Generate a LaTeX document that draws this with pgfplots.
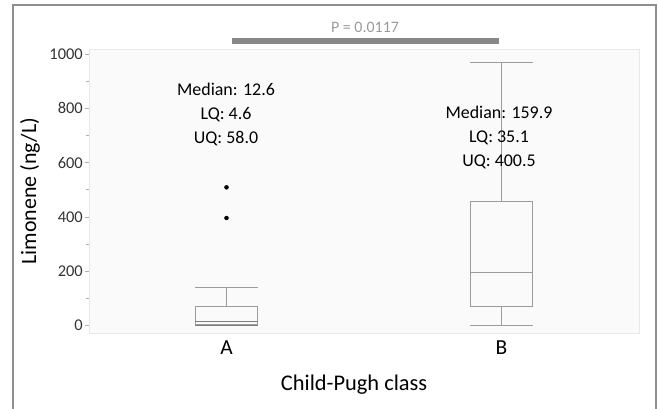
\documentclass[border=0pt]{standalone}
\usepackage{fontspec}
\setmainfont{Carlito}
\usepackage{pgfplots}
\pgfplotsset{compat=1.18}
\definecolor{boxgray}{HTML}{9C9C9C}
\definecolor{framegray}{HTML}{8E8E8E}
\definecolor{plotbg}{HTML}{FAFAFA}
\definecolor{axgray}{HTML}{E8E8E8}
\definecolor{tickgray}{HTML}{B0B0B0}
\definecolor{ptext}{HTML}{9A9A9A}
\definecolor{pbar}{HTML}{888888}
\definecolor{labcol}{HTML}{333333}
\begin{document}
\begin{tikzpicture}
\path[use as bounding box] (0bp,0bp) rectangle (660bp,-409bp);
\draw[color=framegray, line width=1.3bp] (13bp,-430bp) -- (13bp,-5bp) -- (656bp,-5bp) -- (656bp,-430bp);
\begin{axis}[
  at={(89bp,-333bp)}, anchor=south west,
  width=550bp, height=284bp, scale only axis,
  xmin=-0.5, xmax=1.5, ymin=-27.6, ymax=1018.4,
  xtick={0,1}, xticklabels={A,B},
  ytick={0,200,400,600,800,1000},
  minor ytick={100,300,500,700,900},
  ytick pos=left,
  tick align=outside,
  major tick length=4.5bp, minor tick length=3bp,
  xtick style={draw=none},
  ytick style={draw=tickgray, line width=0.6bp},
  minor tick style={draw=tickgray, line width=0.6bp},
  axis line style={draw=axgray, line width=0.8bp},
  axis background/.style={fill=plotbg},
  /pgf/number format/assume math mode=true,
  /pgf/number format/1000 sep={},
  yticklabel style={font=\fontsize{16.5}{16.5}\selectfont, text=labcol, anchor=east, inner sep=1.5bp},
  xticklabel style={font=\fontsize{21.5}{21.5}\selectfont, text=black, anchor=base, yshift=-16.5bp},
  xlabel={Child-Pugh class},
  ylabel={Limonene (ng/L)},
  xlabel style={font=\fontsize{22.5}{22.5}\selectfont, at={(axis description cs:0.482,-0.2042)}, anchor=base},
  ylabel style={font=\fontsize{22}{22}\selectfont, at={(axis description cs:-0.1073,0.5)}, anchor=center},
  clip=false,
]
% Box A: whiskers 0 / 141, quartiles 5.5 / 72, median 16.6
\addplot[draw=boxgray, line width=0.9bp] coordinates {
  (-0.1135,5.5) (0.1135,5.5) (0.1135,72) (-0.1135,72) (-0.1135,5.5)};
\addplot[draw=boxgray!80!black, line width=0.9bp] coordinates {(-0.1135,16.6) (0.1135,16.6)};
\addplot[draw=boxgray, line width=0.9bp] coordinates {(0,72) (0,141)};
\addplot[draw=boxgray, line width=0.9bp] coordinates {(-0.1135,141) (0.1135,141)};
\addplot[draw=boxgray!80!black, line width=0.9bp] coordinates {(-0.1135,2) (0.1135,2)};
% Box B: whiskers 0 / 969, quartiles 69 / 458, median 195
\addplot[draw=boxgray, line width=0.9bp] coordinates {
  (0.8865,69) (1.1135,69) (1.1135,458) (0.8865,458) (0.8865,69)};
\addplot[draw=boxgray, line width=0.9bp] coordinates {(0.8865,195) (1.1135,195)};
\addplot[draw=boxgray, line width=0.9bp] coordinates {(1,458) (1,969)};
\addplot[draw=boxgray, line width=0.9bp] coordinates {(0.8865,969) (1.1135,969)};
\addplot[draw=boxgray, line width=0.9bp] coordinates {(1,0) (1,69)};
\addplot[draw=boxgray, line width=0.9bp] coordinates {(0.8865,0) (1.1135,0)};
% outliers
\addplot[only marks, mark=*, mark size=2bp, black] coordinates {(0,509) (0,396)};
\end{axis}
% annotations
\begin{scope}[every node/.style={font=\fontsize{18}{18}\selectfont, anchor=base, inner sep=0pt}]
\node at (226bp,-95bp) {Median: 12.6};
\node at (226bp,-119bp) {LQ: 4.6};
\node at (226bp,-143bp) {UQ: 58.0};
\node at (499bp,-118.5bp) {Median: 159.9};
\node at (499bp,-142.5bp) {LQ: 35.1};
\node at (499bp,-166.5bp) {UQ: 400.5};
\end{scope}
\fill[pbar] (232bp,-38.3bp) rectangle (499bp,-44bp);
\node[font=\fontsize{16}{16}\selectfont, text=ptext, anchor=base, inner sep=0pt] at (365bp,-32.3bp) {P = 0.0117};
\end{tikzpicture}
\end{document}
